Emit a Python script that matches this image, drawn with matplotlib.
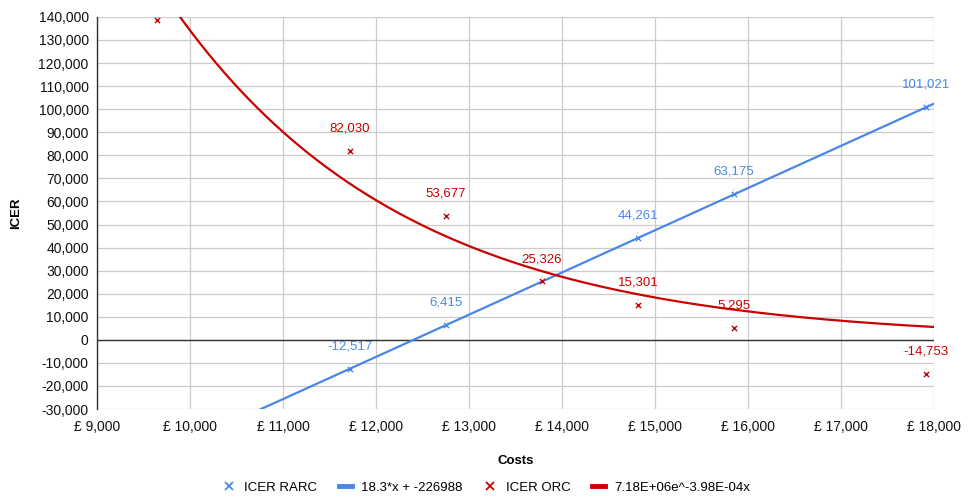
import numpy as np
import matplotlib.pyplot as plt
from matplotlib.ticker import FuncFormatter, MultipleLocator
from matplotlib.lines import Line2D

plt.rcParams['font.family'] = ['Liberation Sans', 'DejaVu Sans']

# data
rarc_cost = [11716, 12749, 14815, 15848, 17914]
rarc_icer = [-12517, 6415, 44261, 63175, 101021]
orc_cost = [9650, 11716, 12749, 13782, 14815, 15848, 17914]
orc_icer = [138700, 82030, 53677, 25326, 15301, 5295, -14753]

lin_a, lin_b = 18.3, -226988
exp_a, exp_k = 7.18e6, -3.98e-4

blue = '#4a86e8'
red = '#cc0000'

fig = plt.figure(figsize=(9.72, 4.98), dpi=100)
ax = fig.add_axes([0.0998, 0.1787, 0.8612, 0.7873])

xs = np.linspace(9000, 18000, 400)
ax.plot(xs, lin_a * xs + lin_b, color=blue, lw=1.6, zorder=3)
ax.plot(xs, exp_a * np.exp(exp_k * xs), color=red, lw=1.6, zorder=3)
ax.scatter(rarc_cost, rarc_icer, marker='x', color=blue, s=14, lw=1, zorder=4)
ax.scatter(orc_cost, orc_icer, marker='x', color=red, s=14, lw=1, zorder=4)

def label_points(xv, yv, col):
    for x, y in zip(xv, yv):
        if y > 130000:
            continue
        ax.annotate(f'{y:,}', (x, y), xytext=(0, 16), textcoords='offset points',
                    ha='center', va='center', color=col, fontsize=9.5,
                    arrowprops=dict(arrowstyle='-', color='#cccccc', lw=0.8,
                                    shrinkA=6, shrinkB=3), zorder=5)

label_points(rarc_cost, rarc_icer, blue)
label_points(orc_cost, orc_icer, red)

ax.set_xlim(9000, 18000)
ax.set_ylim(-30000, 140000)
ax.xaxis.set_major_locator(MultipleLocator(1000))
ax.yaxis.set_major_locator(MultipleLocator(10000))
ax.xaxis.set_major_formatter(FuncFormatter(lambda v, p: f'£ {v:,.0f}'))
ax.yaxis.set_major_formatter(FuncFormatter(lambda v, p: f'{v:,.0f}'))
ax.grid(True, color='#cccccc', lw=0.9)
ax.set_axisbelow(True)
ax.axhline(0, color='#333333', lw=1, zorder=2)
ax.tick_params(length=0, labelsize=10, colors='#111111')
ax.tick_params(axis='x', pad=8)
ax.tick_params(axis='y', pad=6)
for s in ['top', 'right', 'bottom']:
    ax.spines[s].set_visible(False)
ax.spines['left'].set_color('#333333')
ax.spines['left'].set_linewidth(1)

ax.set_xlabel('Costs', fontsize=9.5, fontweight='bold', labelpad=15)
ax.set_ylabel('ICER', fontsize=9.5, fontweight='bold', labelpad=12)

handles = [
    Line2D([], [], ls='none', marker='x', color=blue, ms=6, mew=1.3),
    Line2D([], [], color=blue, lw=3.5),
    Line2D([], [], ls='none', marker='x', color=red, ms=6, mew=1.3),
    Line2D([], [], color=red, lw=3.5),
]
labels = ['ICER RARC', '18.3*x + -226988', 'ICER ORC', '7.18E+06e^-3.98E-04x']
fig.legend(handles, labels, loc='lower center',
           bbox_to_anchor=(0.5, -0.015), ncol=4, frameon=False, fontsize=9.5,
           handlelength=1.0, columnspacing=1.6, handletextpad=0.7)

fig.savefig('out.png', dpi=100)
